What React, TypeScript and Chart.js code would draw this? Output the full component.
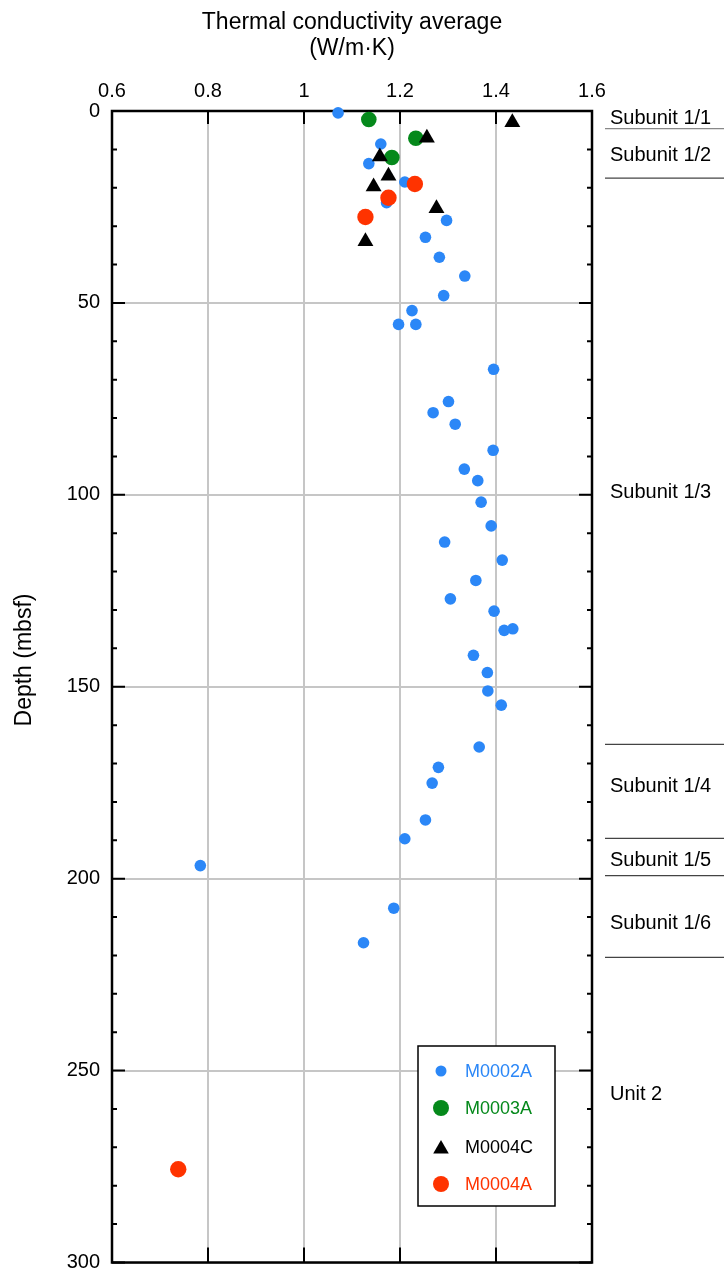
import React, { useEffect, useRef } from 'react';
import { Chart, registerables } from 'chart.js';

Chart.register(...registerables);

// ---- ticks ----
const xTickValues = [0.6, 0.8, 1.0, 1.2, 1.4, 1.6];
const xTickLabels = ['0.6', '0.8', '1', '1.2', '1.4', '1.6'];
const yTickValues = [0, 50, 100, 150, 200, 250, 300];
const yTickLabels = ['0', '50', '100', '150', '200', '250', '300'];
const xMin = 0.6, xMax = 1.6, xStep = 0.2;
const yMin = 0, yMax = 300, yStep = 50, yMinorStep = 10;

// ---- series: M0002A (blue) ----
const m0002aK = [1.071, 1.160, 1.135, 1.210, 1.172, 1.297, 1.253, 1.282, 1.335, 1.291, 1.225, 1.197, 1.233,
  1.395, 1.301, 1.269, 1.315, 1.394, 1.334, 1.362, 1.369, 1.390, 1.293, 1.413, 1.358, 1.305, 1.396,
  1.417, 1.435, 1.353, 1.382, 1.383, 1.411, 1.365, 1.280, 1.267, 1.253, 1.210, 0.784, 1.187, 1.124];
const m0002aDepth = [0.5, 8.6, 13.7, 18.5, 23.9, 28.5, 32.9, 38.1, 43.0, 48.1, 52.0, 55.6, 55.6,
  67.3, 75.7, 78.6, 81.6, 88.4, 93.3, 96.3, 101.9, 108.1, 112.3, 117.0, 122.3, 127.1, 130.3,
  135.3, 134.9, 141.8, 146.3, 151.1, 154.8, 165.7, 171.0, 175.1, 184.7, 189.6, 196.6, 207.7, 216.7];

// ---- series: M0003A (green) ----
const m0003aK = [1.135, 1.233, 1.183];
const m0003aDepth = [2.2, 7.1, 12.1];

// ---- series: M0004C (black triangles) ----
const m0004cK = [1.434, 1.256, 1.158, 1.176, 1.145, 1.276, 1.128];
const m0004cDepth = [3.0, 7.0, 11.9, 16.9, 19.7, 25.4, 34.0];

// ---- series: M0004A (red) ----
const m0004aK = [1.231, 1.176, 1.128, 0.738];
const m0004aDepth = [19.0, 22.6, 27.6, 275.7];

// ---- lithologic units ----
const unitBoundaryDepths = [4.6, 17.5, 165.0, 189.5, 199.2, 220.5];
const unitNames = ['Subunit 1/1', 'Subunit 1/2', 'Subunit 1/3', 'Subunit 1/4', 'Subunit 1/5', 'Subunit 1/6', 'Unit 2'];
const unitLabelDepths = [2.0, 11.7, 99.5, 176.0, 195.2, 211.7, 256.2];

const seriesNames = ['M0002A', 'M0003A', 'M0004C', 'M0004A'];
const seriesColors = ['#2b87f7', '#05891b', '#000000', '#ff3300'];

const FONT = '"Liberation Sans", Arial, Helvetica, sans-serif';

function toPoints(xs: number[], ys: number[]) {
  return xs.map((v, i) => ({ x: v, y: ys[i] }));
}

function labelFor(values: number[], labels: string[], v: number) {
  const i = values.findIndex((t) => Math.abs(t - v) < 1e-6);
  return i >= 0 ? labels[i] : '';
}

function drawMarker(ctx: CanvasRenderingContext2D, style: string, x: number, y: number, r: number, color: string) {
  ctx.fillStyle = color;
  ctx.beginPath();
  if (style === 'triangle') {
    let rad = 0;
    ctx.moveTo(x + Math.sin(rad) * r, y - Math.cos(rad) * r);
    rad += (2 * Math.PI) / 3;
    ctx.lineTo(x + Math.sin(rad) * r, y - Math.cos(rad) * r);
    rad += (2 * Math.PI) / 3;
    ctx.lineTo(x + Math.sin(rad) * r, y - Math.cos(rad) * r);
    ctx.closePath();
  } else {
    ctx.arc(x, y, r, 0, Math.PI * 2);
  }
  ctx.fill();
}

const decorPlugin = {
  id: 'decor',
  beforeDatasetsDraw(chart: any) {
    const { ctx, chartArea: a, scales } = chart;
    const x = scales.x, y = scales.y;
    ctx.save();
    ctx.strokeStyle = '#000';
    ctx.lineWidth = 2;
    ctx.beginPath();
    for (let v = yMin; v <= yMax; v += yMinorStep) {
      const py = y.getPixelForValue(v);
      const len = v % yStep === 0 ? 13 : 5;
      ctx.moveTo(a.left, py); ctx.lineTo(a.left + len, py);
      ctx.moveTo(a.right, py); ctx.lineTo(a.right - len, py);
    }
    xTickValues.forEach((v) => {
      const px = x.getPixelForValue(v);
      ctx.moveTo(px, a.top); ctx.lineTo(px, a.top + 13);
      ctx.moveTo(px, a.bottom); ctx.lineTo(px, a.bottom - 15);
    });
    ctx.stroke();
    ctx.lineWidth = 2.5;
    ctx.strokeRect(a.left, a.top, a.right - a.left, a.bottom - a.top);
    ctx.restore();
  },
  afterDraw(chart: any) {
    const { ctx, chartArea: a, scales } = chart;
    const y = scales.y;
    ctx.save();
    // title
    ctx.fillStyle = '#000';
    ctx.textAlign = 'center';
    ctx.textBaseline = 'alphabetic';
    ctx.font = `23px ${FONT}`;
    const cx = (a.left + a.right) / 2;
    ctx.fillText('Thermal conductivity average', cx, 29);
    ctx.fillText('(W/m·K)', cx, 55);
    // y-axis title
    ctx.save();
    ctx.translate(25, 660);
    ctx.rotate(-Math.PI / 2);
    ctx.textBaseline = 'middle';
    ctx.fillText('Depth (mbsf)', 0, 0);
    ctx.restore();

    // unit boundaries
    ctx.lineWidth = 1.3;
    unitBoundaryDepths.forEach((d, i) => {
      const py = y.getPixelForValue(d);
      ctx.strokeStyle = i === 0 ? '#888' : '#444';
      ctx.beginPath();
      ctx.moveTo(605, py);
      ctx.lineTo(724, py);
      ctx.stroke();
    });
    ctx.font = `20px ${FONT}`;
    ctx.textAlign = 'left';
    ctx.textBaseline = 'middle';
    ctx.fillStyle = '#000';
    unitNames.forEach((n, i) => {
      ctx.fillText(n, 610, y.getPixelForValue(unitLabelDepths[i]));
    });

    // legend
    const bx = 418, by = 1046, bw = 137, bh = 160;
    ctx.fillStyle = '#fff';
    ctx.fillRect(bx, by, bw, bh);
    ctx.strokeStyle = '#000';
    ctx.lineWidth = 1.5;
    ctx.strokeRect(bx, by, bw, bh);
    const styles = ['circle', 'circle', 'triangle', 'circle'];
    const radii = [5.5, 8, 9, 8];
    const rowYs = [1071, 1108, 1147, 1184];
    ctx.font = `18px ${FONT}`;
    seriesNames.forEach((n, i) => {
      const ry = rowYs[i];
      drawMarker(ctx, styles[i], 441, styles[i] === 'triangle' ? ry + 2 : ry, radii[i], seriesColors[i]);
      ctx.fillStyle = seriesColors[i];
      ctx.textAlign = 'left';
      ctx.textBaseline = 'middle';
      ctx.fillText(n, 465, ry + 1);
    });
    ctx.restore();
  },
};

export default function App() {
  const ref = useRef<HTMLCanvasElement | null>(null);
  useEffect(() => {
    if (!ref.current) return;
    const chart = new Chart(ref.current, {
      type: 'scatter',
      data: {
        datasets: [
          { label: seriesNames[0], data: toPoints(m0002aK, m0002aDepth), pointStyle: 'circle', pointRadius: 5.8, pointBackgroundColor: seriesColors[0], pointBorderWidth: 0, backgroundColor: seriesColors[0], order: 4, clip: false },
          { label: seriesNames[1], data: toPoints(m0003aK, m0003aDepth), pointStyle: 'circle', pointRadius: 7.8, pointBackgroundColor: seriesColors[1], pointBorderWidth: 0, backgroundColor: seriesColors[1], order: 3, clip: false },
          { label: seriesNames[2], data: toPoints(m0004cK, m0004cDepth), pointStyle: 'triangle', pointRadius: 9.2, pointBackgroundColor: seriesColors[2], pointBorderWidth: 0, backgroundColor: seriesColors[2], order: 2, clip: false },
          { label: seriesNames[3], data: toPoints(m0004aK, m0004aDepth), pointStyle: 'circle', pointRadius: 8.2, pointBackgroundColor: seriesColors[3], pointBorderWidth: 0, backgroundColor: seriesColors[3], order: 1, clip: false },
        ] as any,
      },
      options: {
        animation: false,
        responsive: false,
        devicePixelRatio: 1,
        layout: { padding: { top: 0, right: 132, bottom: 10.5, left: 0 } },
        plugins: { legend: { display: false }, tooltip: { enabled: false }, title: { display: false } },
        scales: {
          x: {
            type: 'linear', position: 'top', min: xMin, max: xMax,
            afterFit: (s: any) => { s.height = 111; s.paddingLeft = 0; s.paddingRight = 0; },
            ticks: {
              stepSize: xStep, padding: 8, color: '#000', font: { family: FONT, size: 20 },
              maxRotation: 0, autoSkip: false,
              callback: (v: any) => labelFor(xTickValues, xTickLabels, Number(v)),
            },
            grid: { color: '#c6c6c6', lineWidth: 2, drawTicks: false },
            border: { display: false },
          },
          y: {
            type: 'linear', position: 'left', reverse: true, min: yMin, max: yMax,
            afterFit: (s: any) => { s.width = 112; s.paddingTop = 0; s.paddingBottom = 0; },
            ticks: {
              stepSize: yStep, padding: 12, color: '#000', font: { family: FONT, size: 20 },
              autoSkip: false,
              callback: (v: any) => labelFor(yTickValues, yTickLabels, Number(v)),
            },
            grid: { color: '#c6c6c6', lineWidth: 2, drawTicks: false },
            border: { display: false },
          },
        },
      } as any,
      plugins: [decorPlugin],
    });
    return () => chart.destroy();
  }, []);
  return (
    <div style={{ position: 'fixed', left: 0, top: 0, width: 724, height: 1273, background: '#fff' }}>
      <canvas ref={ref} width={724} height={1273} style={{ width: 724, height: 1273, display: 'block' }} />
    </div>
  );
}
